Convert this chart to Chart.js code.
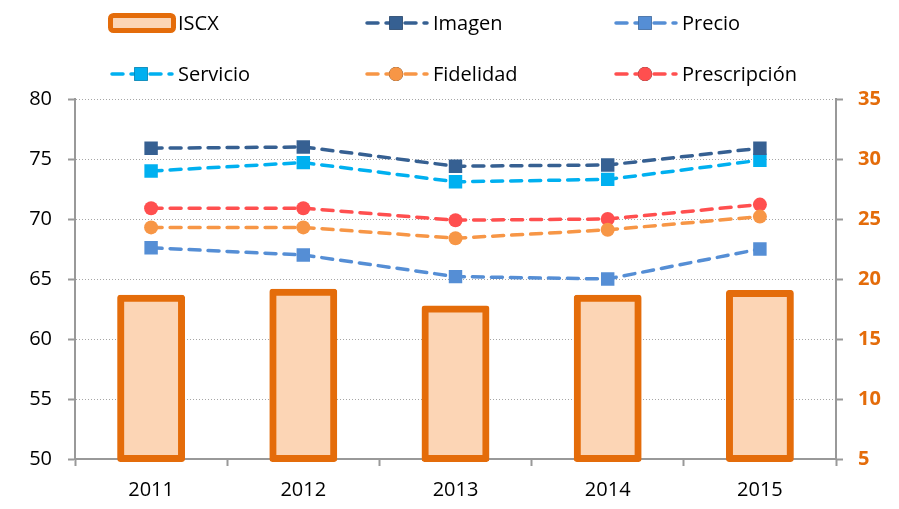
<!DOCTYPE html>
<html>
<head>
<meta charset="utf-8">
<script src="https://cdn.jsdelivr.net/npm/chart.js@4"></script>
<style>
  body { margin: 0; background: #fff; }
  #wrap { width: 899px; height: 509px; }
</style>
</head>
<body>
<div id="wrap"><canvas id="chart" width="899" height="509"></canvas></div>
<script>
// datos
var years = ['2011', '2012', '2013', '2014', '2015'];
var iscx = [18.4, 18.9, 17.5, 18.4, 18.8];
var imagen = [75.9, 76.0, 74.4, 74.5, 75.9];
var precio = [67.6, 67.0, 65.2, 65.0, 67.5];
var servicio = [74.0, 74.7, 73.1, 73.3, 74.9];
var fidelidad = [69.3, 69.3, 68.4, 69.1, 70.2];
var prescripcion = [70.9, 70.9, 69.9, 70.0, 71.2];

var leftTicks = [50, 55, 60, 65, 70, 75, 80];
var rightTicks = [5, 10, 15, 20, 25, 30, 35];

var gray = '#999999';
var orange = '#E46C0A';

Chart.defaults.font.family = "'Open Sans'";
Chart.defaults.font.size = 20;
Chart.defaults.color = '#000';

function lineSet(label, data, color, style) {
  return {
    type: 'line',
    label: label,
    data: data,
    yAxisID: 'y',
    borderColor: color,
    backgroundColor: color,
    borderWidth: 3.5,
    borderDash: [11, 8],
    borderCapStyle: 'round',
    pointStyle: style,
    pointRadius: style == 'rect' ? 9.5 : 7,
    pointBorderWidth: 0,
    fill: false,
    tension: 0,
    order: 1
  };
}

// leyenda dibujada a mano (2 filas x 3 columnas)
var legendPos = [[108, 23], [363, 23], [612, 23], [108, 74], [363, 74], [612, 74]];

var legendPlugin = {
  id: 'manualLegend',
  afterDraw: function(chart) {
    var ctx = chart.ctx;
    chart.data.datasets.forEach(function(ds, i) {
      var x = legendPos[i][0], y = legendPos[i][1];
      ctx.save();
      if (ds.type == 'bar') {
        ctx.fillStyle = ds.backgroundColor;
        ctx.strokeStyle = ds.borderColor;
        ctx.lineWidth = 5;
        ctx.beginPath();
        ctx.roundRect(x + 2.5, y - 7.5, 63, 15, 3);
        ctx.fill();
        ctx.stroke();
      } else {
        ctx.strokeStyle = ds.borderColor;
        ctx.lineWidth = ds.borderWidth;
        ctx.lineCap = 'round';
        ctx.setLineDash([11, 8]);
        ctx.beginPath();
        ctx.moveTo(x + 4, y);
        ctx.lineTo(x + 64, y);
        ctx.stroke();
        ctx.setLineDash([]);
        Chart.helpers.drawPoint(ctx, {
          pointStyle: ds.pointStyle,
          radius: ds.pointRadius,
          borderWidth: 0
        }, x + 33, y);
        ctx.fillStyle = ds.backgroundColor;
        ctx.fill();
      }
      ctx.fillStyle = '#000';
      ctx.font = "20px 'Open Sans'";
      ctx.textBaseline = 'middle';
      ctx.fillText(ds.label, x + 70, y + 1);
      ctx.restore();
    });
  }
};

var data = {
  labels: years,
  datasets: [
    {
      type: 'bar',
      label: 'ISCX',
      data: iscx,
      yAxisID: 'y2',
      base: 5,
      backgroundColor: '#FCD5B5',
      borderColor: orange,
      borderWidth: 7,
      borderSkipped: false,
      borderRadius: 3,
      inflateAmount: 3.5,
      barPercentage: 0.4,
      categoryPercentage: 1,
      clip: false,
      order: 10
    },
    lineSet('Imagen', imagen, '#366092', 'rect'),
    lineSet('Precio', precio, '#558ED5', 'rect'),
    lineSet('Servicio', servicio, '#00B0F0', 'rect'),
    lineSet('Fidelidad', fidelidad, '#F79646', 'circle'),
    lineSet('Prescripción', prescripcion, '#FF4F4F', 'circle')
  ]
};

var ctx = document.getElementById('chart').getContext('2d');

var myChart = new Chart(ctx, {
  data: data,
  plugins: [legendPlugin],
  options: {
    responsive: false,
    animation: false,
    layout: { padding: { top: 99, right: 0, left: 0, bottom: 0 } },
    plugins: {
      legend: { display: false },
      tooltip: { enabled: false }
    },
    scales: {
      x: {
        offset: true,
        afterFit: function(s) { s.height = 50; },
        grid: { offset: true, drawOnChartArea: false, tickLength: 7, tickColor: gray, tickWidth: 2 },
        border: { color: gray, width: 2 },
        ticks: { padding: 12 }
      },
      y: {
        position: 'left',
        min: 50,
        max: 80,
        afterFit: function(s) { s.width = 75; },
        afterBuildTicks: function(s) { s.ticks = leftTicks.map(function(v) { return { value: v }; }); },
        grid: { color: '#a6a6a6', lineWidth: 1, tickLength: 7, tickColor: gray, tickWidth: 2 },
        border: { color: gray, width: 2, dash: [1, 2] },
        ticks: { padding: 16 }
      },
      y2: {
        position: 'right',
        min: 5,
        max: 35,
        afterFit: function(s) { s.width = 63; },
        afterBuildTicks: function(s) { s.ticks = rightTicks.map(function(v) { return { value: v }; }); },
        grid: { drawOnChartArea: false, tickLength: 7, tickColor: gray, tickWidth: 2 },
        border: { color: gray, width: 2 },
        ticks: { padding: 15, color: orange, font: { weight: 'bold' } }
      }
    }
  }
});
</script>
</body>
</html>
